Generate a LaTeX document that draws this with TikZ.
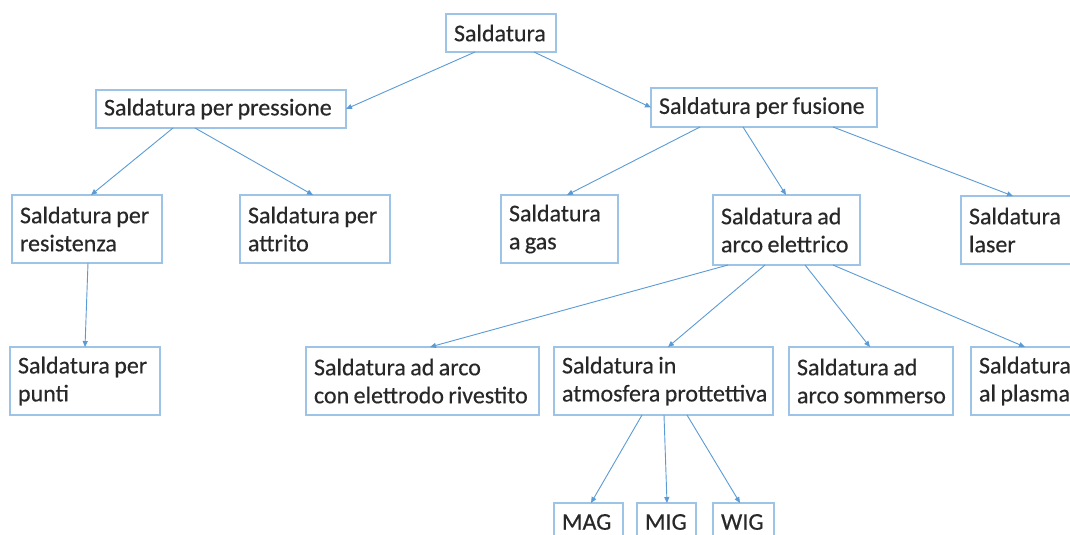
\documentclass[tikz,border=0pt]{standalone}
\usepackage{fontspec}
\setmainfont{Carlito}[UprightFeatures={FakeBold=0.4}]
\usetikzlibrary{arrows.meta}
\definecolor{bord}{RGB}{157,195,230}
\definecolor{arr}{RGB}{91,155,213}
\definecolor{txt}{RGB}{40,40,40}
\hyphenpenalty=10000
\exhyphenpenalty=10000
\begin{document}
\begin{tikzpicture}[x=1pt,y=-1pt,
  box/.style={draw=bord, line width=1.1pt, fill=white, text=txt,
    font=\fontsize{24}{28}\selectfont, inner xsep=8pt, inner ysep=0pt,
    anchor=north west, outer sep=0pt, align=left,
    execute at begin node={\spaceskip=4.4pt\xspaceskip=4.4pt}},
  con/.style={draw=arr, line width=0.9pt, -{Triangle[length=6pt,width=5pt]}}]
\useasboundingbox (0,0) rectangle (1070,535);
\clip (0,0) rectangle (1070,535);
\fill[white] (0,0) rectangle (1070,535);
% boxes
\node[box, text width=94pt, minimum height=38pt] (sald) at (446,14) {Saldatura};
\node[box, text width=234pt, minimum height=38pt] (press) at (96,90) {Saldatura~per~pressione};
\node[box, text width=210pt, minimum height=39pt] (fus) at (651,88) {Saldatura~per~fusione};
\node[box, text width=134pt, minimum height=68pt] (res) at (12,195) {Saldatura~per\\resistenza};
\node[box, text width=134pt, minimum height=68pt] (attr) at (240,195) {Saldatura~per\\attrito};
\node[box, text width=101pt, minimum height=68pt] (gas) at (501,195) {Saldatura\\a~gas};
\node[box, text width=131pt, minimum height=70pt] (arco) at (713,195) {Saldatura~ad\\arco~elettrico};
\node[box, text width=133pt, minimum height=68pt] (laser) at (961,196) {Saldatura\\laser};
\node[box, text width=134pt, minimum height=68pt] (punti) at (10,347) {Saldatura~per\\punti};
\node[box, text width=217pt, minimum height=68pt] (elet) at (306,347) {Saldatura~ad~arco\\con~elettrodo~rivestito};
\node[box, text width=203pt, minimum height=68pt] (atm) at (554,347) {Saldatura~in\\atmosfera~prottettiva};
\node[box, text width=148pt, minimum height=68pt] (somm) at (789,347) {Saldatura~ad\\arco~sommerso};
\node[box, text width=133pt, minimum height=68pt] (plas) at (971,347) {Saldatura\\al~plasma};
\node[box, text width=53pt, minimum height=38pt] (mag) at (554,503) {MAG};
\node[box, text width=43pt, minimum height=38pt] (mig) at (637,503) {MIG};
\node[box, text width=45pt, minimum height=38pt] (wig) at (713,503) {WIG};
% connectors
\draw[con] ([xshift=29pt]sald.south west) -- (press.east);
\draw[con] ([xshift=88pt]sald.south west) -- (fus.west);
\draw[con] ([xshift=77pt]press.south west) -- ([xshift=79pt]res.north west);
\draw[con] ([xshift=99pt]press.south west) -- ([xshift=73pt]attr.north west);
\draw[con] ([xshift=49pt]fus.south west) -- ([xshift=66pt]gas.north west);
\draw[con] ([xshift=92pt]fus.south west) -- ([xshift=73pt]arco.north west);
\draw[con] ([xshift=182pt]fus.south west) -- ([xshift=52pt]laser.north west);
\draw[con] ([xshift=76pt]res.south west) -- ([xshift=75pt]punti.north west);
\draw[con] ([xshift=15pt]arco.south west) -- ([xshift=124pt]elet.north west);
\draw[con] ([xshift=52pt]arco.south west) -- ([xshift=114pt]atm.north west);
\draw[con] ([xshift=92pt]arco.south west) -- ([xshift=81pt]somm.north west);
\draw[con] ([xshift=120pt]arco.south west) -- ([xshift=54pt]plas.north west);
\draw[con] ([xshift=88pt]atm.south west) -- ([xshift=37pt]mag.north west);
\draw[con] ([xshift=110pt]atm.south west) -- ([xshift=30pt]mig.north west);
\draw[con] ([xshift=133pt]atm.south west) -- ([xshift=27pt]wig.north west);
\end{tikzpicture}
\end{document}
